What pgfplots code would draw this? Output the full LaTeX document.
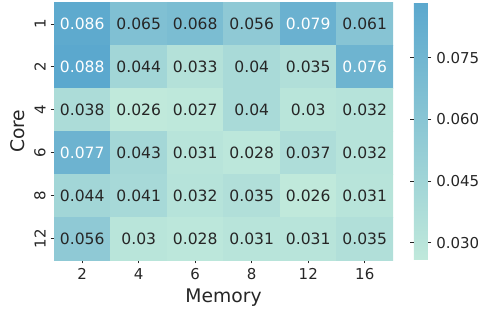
\documentclass[border=0pt]{standalone}
\usepackage{fontspec}
\setmainfont{DejaVu Sans}
\usepackage{pgfplots}
\pgfplotsset{compat=1.18}
\definecolor{txt}{HTML}{262626}
\begin{document}
\begin{tikzpicture}
\useasboundingbox (0,0) rectangle (344.16pt,223.92pt);
\begin{axis}[
  at={(38.88pt,36.72pt)}, anchor=south west,
  scale only axis, width=244.08pt, height=185.4pt,
  xmin=-0.5, xmax=5.5, ymin=-0.5, ymax=5.5, y dir=reverse,
  xtick={0,...,5}, xticklabels={2,4,6,8,12,16},
  ytick={0,...,5}, yticklabels={1,2,4,6,8,12},
  yticklabel style={rotate=90, anchor=south},
  tick align=outside, tick pos=left, major tick length=2.5pt,
  tick style={txt, line width=0.6pt},
  axis line style={draw=none},
  ticklabel style={font=\fontsize{10.8}{12}\selectfont, text=txt},
  xlabel={Memory}, ylabel={Core},
  label style={font=\fontsize{13.5}{15}\selectfont, text=txt},
  colormap={sb}{rgb255=(192,233,219) rgb255=(91,168,206)},
  point meta min=0.0258, point meta max=0.0884,
  /pgf/number format/assume math mode=true,
  colorbar,
  colorbar style={
    at={(parent axis.north east)}, anchor=north west, xshift=6.5pt,
    width=10.08pt,
    ytick={0.030,0.045,0.060,0.075},
    scaled y ticks=false,
    yticklabel style={/pgf/number format/.cd, fixed, fixed zerofill, precision=3, assume math mode=true, /tikz/.cd, font=\fontsize{10.8}{12}\selectfont, text=txt},
    axis line style={draw=none},
    tick align=outside, major tick length=2.5pt,
    tick style={txt, line width=0.6pt},
  },
]
\addplot[matrix plot*, mesh/cols=6, point meta=explicit] table[meta=v] {
x y v
0 0 0.086
1 0 0.065
2 0 0.068
3 0 0.056
4 0 0.079
5 0 0.061
0 1 0.088
1 1 0.044
2 1 0.033
3 1 0.040
4 1 0.035
5 1 0.076
0 2 0.038
1 2 0.026
2 2 0.027
3 2 0.040
4 2 0.030
5 2 0.032
0 3 0.077
1 3 0.043
2 3 0.031
3 3 0.028
4 3 0.037
5 3 0.032
0 4 0.044
1 4 0.041
2 4 0.032
3 4 0.035
4 4 0.026
5 4 0.031
0 5 0.056
1 5 0.030
2 5 0.028
3 5 0.031
4 5 0.031
5 5 0.035
};
\addplot[only marks, mark=none, nodes near coords, point meta=explicit symbolic,
  every node near coord/.append style={anchor=center, font=\fontsize{11.2}{12}\selectfont, text=txt}]
coordinates {
(1,0)[0.065] (2,0)[0.068] (3,0)[0.056] (5,0)[0.061]
(1,1)[0.044] (2,1)[0.033] (3,1)[0.04] (4,1)[0.035]
(0,2)[0.038] (1,2)[0.026] (2,2)[0.027] (3,2)[0.04] (4,2)[0.03] (5,2)[0.032]
(1,3)[0.043] (2,3)[0.031] (3,3)[0.028] (4,3)[0.037] (5,3)[0.032]
(0,4)[0.044] (1,4)[0.041] (2,4)[0.032] (3,4)[0.035] (4,4)[0.026] (5,4)[0.031]
(0,5)[0.056] (1,5)[0.03] (2,5)[0.028] (3,5)[0.031] (4,5)[0.031] (5,5)[0.035]
};
\addplot[only marks, mark=none, nodes near coords, point meta=explicit symbolic,
  every node near coord/.append style={anchor=center, font=\fontsize{11.2}{12}\selectfont, text=white}]
coordinates {
(0,0)[0.086] (4,0)[0.079] (0,1)[0.088] (5,1)[0.076] (0,3)[0.077]
};
\end{axis}
\end{tikzpicture}
\end{document}
